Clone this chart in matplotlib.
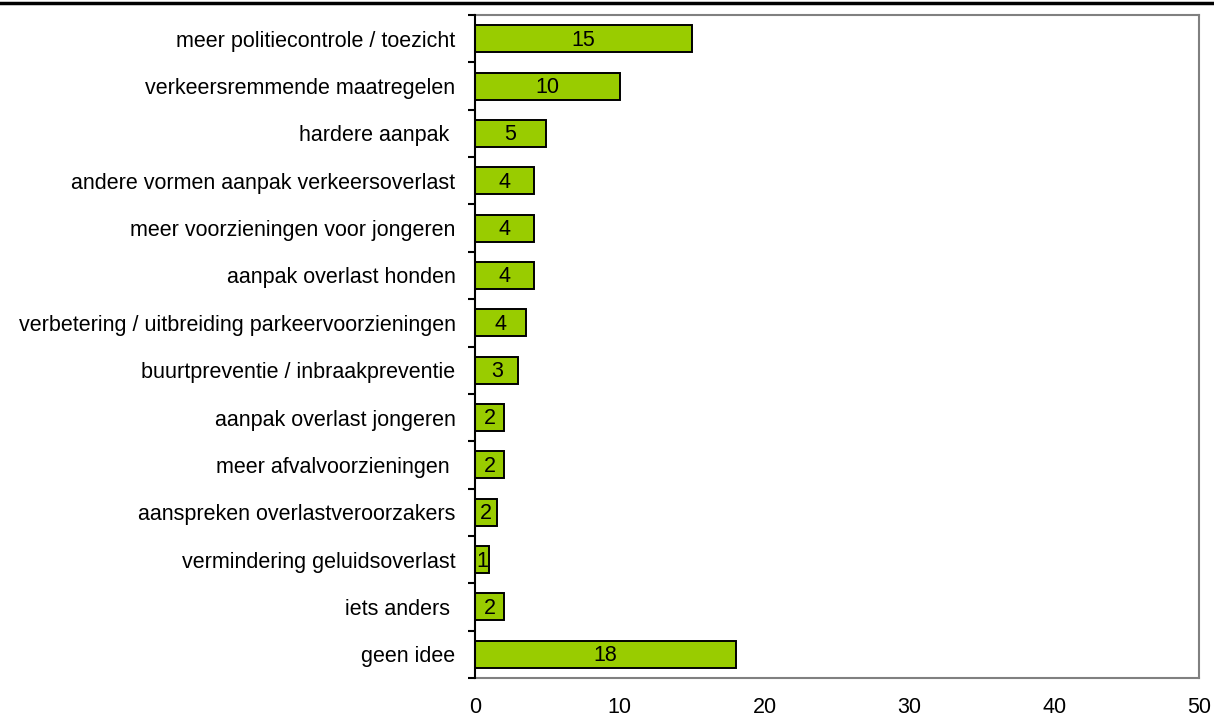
import matplotlib
matplotlib.use("Agg")
import matplotlib.pyplot as plt
from matplotlib.lines import Line2D
import numpy as np

categories = [
    "meer politiecontrole / toezicht",
    "verkeersremmende maatregelen",
    "hardere aanpak ",
    "andere vormen aanpak verkeersoverlast",
    "meer voorzieningen voor jongeren",
    "aanpak overlast honden",
    "verbetering / uitbreiding parkeervoorzieningen",
    "buurtpreventie / inbraakpreventie",
    "aanpak overlast jongeren",
    "meer afvalvoorzieningen ",
    "aanspreken overlastveroorzakers",
    "vermindering geluidsoverlast",
    "iets anders ",
    "geen idee",
]
values = [15.0, 10.0, 4.9, 4.1, 4.1, 4.1, 3.5, 3.0, 2.0, 2.0, 1.5, 1.0, 2.0, 18.0]
xticks = [0, 10, 20, 30, 40, 50]

plt.rcParams['font.family'] = ['Liberation Sans', 'DejaVu Sans']
FS = 15.5

fig = plt.figure(figsize=(12.14, 7.27), dpi=100)
ax = fig.add_axes([475/1214, 1-678/727, (1199-475)/1214, (678-15)/727])

n = len(categories)
y = np.arange(n)
ax.barh(y, values, height=0.57, color="#99CC00", edgecolor="black", linewidth=1.4, zorder=3)
for yi, v in zip(y, values):
    ax.text(v/2, yi + 0.03, f"{v:.0f}", ha="center", va="center", fontsize=FS, zorder=4)

ax.set_xlim(0, 50)
ax.set_ylim(n-0.5, -0.5)
ax.set_xticks(xticks)
ax.set_xticklabels([str(t) for t in xticks], fontsize=FS)
ax.tick_params(axis='x', length=0, pad=14)
ax.set_yticks(y)
ax.set_yticklabels(categories, fontsize=FS)
ax.tick_params(axis='y', which='major', length=0, pad=14)
ax.set_yticks(np.arange(-0.5, n, 1.0), minor=True)
ax.tick_params(axis='y', which='minor', length=5, width=1.5, color='black', direction='out')

for s in ['top', 'right', 'bottom']:
    ax.spines[s].set_color('#808080')
    ax.spines[s].set_linewidth(1.5)
ax.spines['left'].set_color('black')
ax.spines['left'].set_linewidth(1.5)
ax.spines['left'].set_zorder(5)

fig.add_artist(Line2D([0, 1], [1-2.5/727, 1-2.5/727], color='black', linewidth=2.5, transform=fig.transFigure))

fig.savefig("out.png", dpi=100)
